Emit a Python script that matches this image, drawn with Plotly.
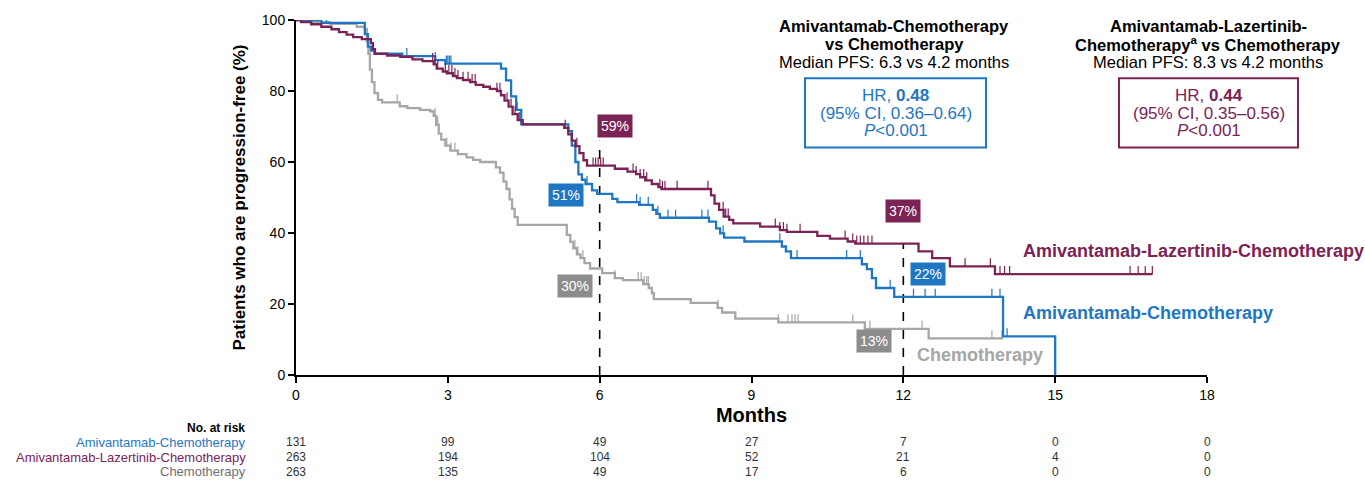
import plotly.graph_objects as go

# ---- Kaplan-Meier step data (months, % progression-free after each drop) ----
ami_chemo_t = [0, 0.5, 1.36, 1.42, 1.48, 1.55, 2.1, 2.75, 2.95, 4.05, 4.15, 4.25, 4.35, 4.45,
               5.38, 5.45, 5.52, 5.58, 5.65, 5.72, 5.85, 5.95, 6.25, 6.35, 6.78, 7.05, 7.12, 7.19,
               8.16, 8.3, 8.38, 8.46, 8.86, 9.6, 9.68, 9.78, 11.18, 11.28, 11.38, 11.46, 11.82,
               13.97, 15.0]
ami_chemo_s = [100, 99.2, 96.0, 92.5, 91.4, 90.5, 89.8, 88.7, 87.7, 86.3, 83.0, 78.5, 74.7, 70.6,
               68.7, 64.6, 60.0, 56.5, 55.0, 53.8, 52.0, 51.0, 49.6, 48.7, 47.9, 46.5, 45.4, 44.3,
               43.2, 41.3, 39.9, 38.7, 37.6, 36.2, 34.8, 32.9, 31.2, 29.8, 27.3, 24.5, 22.0,
               10.9, 0]
ami_chemo_cens = [0.6, 2.19, 2.75, 2.97, 3.0, 3.03, 3.06, 4.37, 5.75, 6.73, 6.8, 6.96, 7.15, 7.35,
                  7.5, 8.02, 8.14, 8.44, 9.56, 9.9, 10.88, 11.15, 11.74, 12.2, 12.43, 12.63,
                  13.75, 13.91, 14.05]

ami_laz_t = [0, 0.1, 0.3, 0.5, 0.7, 0.85, 1.0, 1.13, 1.3, 1.48, 1.52, 1.56, 1.8, 2.06, 2.3, 2.5,
             2.72, 2.78, 2.9, 2.98, 3.1, 3.18, 3.3, 3.44, 3.55, 3.7, 3.83, 3.97, 4.05, 4.12, 4.2,
             4.28, 4.38, 4.48, 5.3, 5.38, 5.45, 5.52, 5.6, 5.68, 5.75, 6.3, 6.55, 6.72, 6.8, 6.9,
             7.03, 7.16, 7.22, 8.2, 8.27, 8.36, 8.45, 8.56, 8.64, 9.17, 9.56, 9.7, 10.3, 10.55,
             10.9, 11.05, 12.3, 12.57, 12.92, 13.81, 16.92]
ami_laz_s = [100, 99.4, 98.8, 98.1, 97.4, 96.6, 95.9, 95.2, 94.6, 93.5, 91.8, 90.5, 90.0, 89.6,
             88.9, 88.4, 87.5, 86.3, 85.5, 85.0, 84.2, 83.6, 83.1, 82.5, 81.7, 81.2, 80.6, 80.0,
             78.8, 77.3, 75.6, 73.5, 71.8, 70.6, 69.6, 67.8, 66.0, 64.5, 62.5, 60.5, 59.0, 58.1,
             57.3, 56.6, 55.7, 54.8, 53.8, 52.9, 52.4, 50.6, 48.3, 46.5, 44.6, 43.7, 42.7, 41.8,
             40.8, 40.3, 39.2, 38.4, 37.6, 37.0, 34.8, 32.9, 30.6, 28.4, 28.4]
ami_laz_cens = [2.7, 2.75, 2.8, 2.95, 3.02, 3.08, 3.14, 3.2, 3.3, 3.4, 3.48, 3.54, 3.97, 4.03,
                4.17, 4.25, 4.33, 4.41, 5.32, 5.45, 5.55, 5.87, 5.92, 5.97, 6.02, 6.07, 6.66, 6.72,
                6.8, 6.87, 6.93, 7.19, 7.24, 7.29, 7.53, 8.14, 8.44, 8.49, 8.54, 9.47, 9.56, 9.63,
                9.7, 9.96, 10.85, 11.0, 11.08, 11.15, 11.22, 11.3, 11.38, 12.3, 13.22, 13.72,
                13.81, 13.91, 14.0, 14.1, 16.48, 16.64, 16.78, 16.92]

chemo_t = [0, 0.3, 0.67, 1.2, 1.36, 1.4, 1.43, 1.46, 1.5, 1.55, 1.62, 1.7, 2.05, 2.2, 2.45, 2.65,
           2.72, 2.77, 2.82, 2.87, 2.95, 3.05, 3.2, 3.37, 3.5, 3.64, 3.95, 4.03, 4.1, 4.16, 4.22,
           4.27, 4.32, 4.38, 5.35, 5.42, 5.48, 5.55, 5.62, 5.7, 5.81, 6.05, 6.3, 6.46, 6.86, 6.97,
           7.03, 7.07, 7.8, 8.33, 8.42, 8.68, 9.53, 11.24, 12.5, 13.97]
chemo_s = [100, 99.4, 98.9, 98.1, 97.5, 94.0, 90.5, 86.0, 82.5, 79.4, 77.5, 76.8, 75.7, 75.2,
           74.7, 74.3, 73.0, 70.5, 68.0, 66.3, 64.6, 63.2, 62.2, 61.3, 60.6, 60.0, 58.5, 57.0,
           54.5, 52.4, 49.5, 46.8, 44.5, 42.3, 39.5, 37.5, 35.7, 34.0, 32.9, 31.5, 30.0, 28.7,
           27.3, 26.7, 25.6, 24.5, 23.1, 21.4, 20.3, 18.9, 17.6, 15.9, 14.8, 13.0, 10.3, 10.3]
chemo_cens = [2.0, 2.75, 2.8, 2.98, 3.06, 3.14, 5.51, 5.57, 5.67, 6.3, 6.76, 6.82, 6.88, 6.93,
              6.96, 8.34, 9.53, 9.72, 9.8, 9.86, 9.92, 11.0, 11.34, 12.37, 13.75, 13.95]

# Landmark estimates at 6 and 12 months
landmark_months = [6, 12]
ami_chemo_pct = [51, 22]
ami_laz_pct = [59, 37]
chemo_pct = [30, 13]

# Number at risk
risk_months = [0, 3, 6, 9, 12, 15, 18]
risk_ami_chemo = [131, 99, 49, 27, 7, 0, 0]
risk_ami_laz = [263, 194, 104, 52, 21, 4, 0]
risk_chemo = [263, 135, 49, 17, 6, 0, 0]

x_ticks = [0, 3, 6, 9, 12, 15, 18]
y_ticks = [0, 20, 40, 60, 80, 100]

BLUE = "#1F76C2"
PURPLE = "#7B2355"
GRAY = "#A6A6A6"
GRAY_BOX = "#8C8C8C"
FONT = "Liberation Sans, Arial, sans-serif"

W, H = 1365, 481
ML, MR, MT, MB = 296, 158, 16, 106


def py(ypix):
    """Pixel row -> paper y coordinate."""
    return (H - MB - ypix) / (H - MT - MB)


def px(xpix):
    """Pixel column -> paper x coordinate."""
    return (xpix - ML) / (W - ML - MR)


def surv_at(times, surv, t):
    val = surv[0]
    for ti, si in zip(times, surv):
        if ti <= t:
            val = si
        else:
            break
    return val


def censor_segments(times, surv, cens, height=2.3):
    xs, ys = [], []
    for c in cens:
        s = surv_at(times, surv, c)
        xs += [c, c, None]
        ys += [s, s + height, None]
    return xs, ys


def paper_text(xpix, ypix, text, size, color, anchor="center"):
    fig.add_annotation(x=px(xpix), y=py(ypix), xref="paper", yref="paper",
                       xanchor=anchor, yanchor="middle", text=text, showarrow=False,
                       font=dict(family=FONT, size=size, color=color))


fig = go.Figure()

arms = [
    (chemo_t, chemo_s, chemo_cens, GRAY),
    (ami_chemo_t, ami_chemo_s, ami_chemo_cens, BLUE),
    (ami_laz_t, ami_laz_s, ami_laz_cens, PURPLE),
]

# Landmark dashed lines
dash_tops = [66, 37]
for m, top in zip(landmark_months, dash_tops):
    fig.add_trace(go.Scatter(x=[m, m], y=[0, top], mode="lines",
                             line=dict(color="black", width=1.6, dash="dash"),
                             hoverinfo="skip", showlegend=False))

for t, s, cens, col in arms:
    fig.add_trace(go.Scatter(x=t, y=s, mode="lines", line=dict(color=col, width=2.3, shape="hv"),
                             showlegend=False, cliponaxis=False))
    cx, cy = censor_segments(t, s, cens)
    fig.add_trace(go.Scatter(x=cx, y=cy, mode="lines", line=dict(color=col, width=1.2),
                             showlegend=False, cliponaxis=False))

# Landmark percentage boxes
box_specs = [
    (ami_laz_pct[0], PURPLE, 6.3, 70.2),
    (ami_chemo_pct[0], BLUE, 5.34, 50.7),
    (chemo_pct[0], GRAY_BOX, 5.51, 25.0),
    (ami_laz_pct[1], PURPLE, 12.0, 46.2),
    (ami_chemo_pct[1], BLUE, 12.48, 28.4),
    (chemo_pct[1], GRAY_BOX, 11.43, 9.5),
]
for val, col, bx, by in box_specs:
    fig.add_annotation(x=bx, y=by, text=f"{val}%", showarrow=False, bgcolor=col,
                       xanchor="center", yanchor="middle",
                       font=dict(family=FONT, size=14, color="white"), borderpad=3)

# Curve labels on the right
paper_text(1021, 250, "<b>Amivantamab-Lazertinib-Chemotherapy</b>", 18, PURPLE, "left")
paper_text(1021, 312, "<b>Amivantamab-Chemotherapy</b>", 18, BLUE, "left")
paper_text(915, 355, "<b>Chemotherapy</b>", 18, GRAY, "left")

# Comparison headers
headers = [
    (894, ["<b>Amivantamab-Chemotherapy</b>", "<b>vs Chemotherapy</b>",
           "Median PFS: 6.3 vs 4.2 months"]),
    (1208, ["<b>Amivantamab-Lazertinib-</b>", "<b>Chemotherapy<sup>a</sup> vs Chemotherapy</b>",
            "Median PFS: 8.3 vs 4.2 months"]),
]
for cx, lines in headers:
    for i, txt in enumerate(lines):
        paper_text(cx, 22 + 18 * i, txt, 16.5, "black")

# Hazard ratio boxes
hr_boxes = [
    (805, 986, BLUE, "0.48", "(95% CI, 0.36–0.64)"),
    (1119, 1298, PURPLE, "0.44", "(95% CI, 0.35–0.56)"),
]
for x0, x1, col, hr, ci in hr_boxes:
    fig.add_shape(type="rect", xref="paper", yref="paper", x0=px(x0), x1=px(x1),
                  y0=py(145), y1=py(75), line=dict(color=col, width=2))
    cx = (x0 + x1) / 2
    for txt, ypos in [(f"HR, <b>{hr}</b>", 92), (ci, 111), ("<i>P</i><0.001", 128)]:
        paper_text(cx, ypos, txt, 17, col)

# Number-at-risk table
paper_text(247, 429, "<b>No. at risk</b>", 12, "black", "right")
rows = [
    ("Amivantamab-Chemotherapy", BLUE, risk_ami_chemo, 443),
    ("Amivantamab-Lazertinib-Chemotherapy", PURPLE, risk_ami_laz, 458),
    ("Chemotherapy", "#707070", risk_chemo, 473),
]
for name, col, counts, ypix in rows:
    paper_text(248, ypix, name, 13, col, "right")
    for m, n in zip(risk_months, counts):
        fig.add_annotation(x=m, y=py(ypix), xref="x", yref="paper", text=str(n),
                           xanchor="center", yanchor="middle", showarrow=False,
                           font=dict(family=FONT, size=12, color="#333333"))

fig.update_layout(
    width=W, height=H, autosize=False,
    margin=dict(l=ML, r=MR, t=MT, b=MB, pad=0),
    paper_bgcolor="white", plot_bgcolor="white",
    font=dict(family=FONT, color="black"),
    showlegend=False,
    xaxis=dict(range=[0, 18], tickvals=x_ticks, showgrid=False, zeroline=False,
               showline=True, linecolor="black", linewidth=2, ticks="outside",
               ticklen=6, tickwidth=2, tickcolor="black",
               tickfont=dict(family=FONT, size=14, color="black"),
               title=dict(text="<b>Months</b>", font=dict(family=FONT, size=20, color="black"),
                          standoff=6)),
    yaxis=dict(range=[0, 100], tickvals=y_ticks, showgrid=False, zeroline=False,
               showline=True, linecolor="black", linewidth=2, ticks="outside",
               ticklen=6, tickwidth=2, tickcolor="black",
               tickfont=dict(family=FONT, size=14, color="black"),
               title=dict(text="<b>Patients who are progression-free (%)</b>",
                          font=dict(family=FONT, size=17, color="black"), standoff=12)),
)

fig.write_html("out.html")
